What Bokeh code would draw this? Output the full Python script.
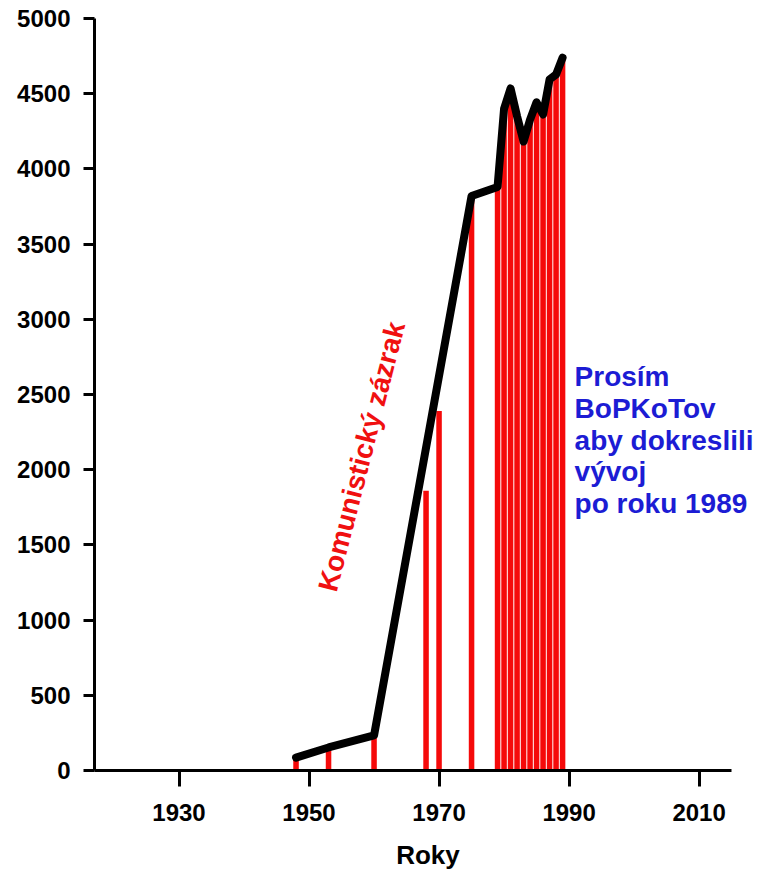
from bokeh.plotting import figure
from bokeh.models import Range1d, FixedTicker, Label
from bokeh.embed import file_html
from bokeh.resources import INLINE

# Data
bar_years = [1948, 1953, 1960, 1968, 1970, 1975, 1979, 1980, 1981, 1982, 1983,
             1984, 1985, 1986, 1987, 1988, 1989]
bar_values = [86, 153, 233, 1860, 2390, 3820, 3880, 4400, 4535, 4350, 4182,
              4328, 4443, 4362, 4595, 4628, 4739]
line_years = [1948, 1953, 1960, 1975, 1979, 1980, 1981, 1982, 1983,
              1984, 1985, 1986, 1987, 1988, 1989]
line_values = [86, 153, 233, 3820, 3880, 4400, 4535, 4350, 4182,
               4328, 4443, 4362, 4595, 4628, 4739]
x_ticks = [1930, 1950, 1970, 1990, 2010]
y_ticks = [0, 500, 1000, 1500, 2000, 2500, 3000, 3500, 4000, 4500, 5000]
x_label = "Roky"
annot_red = "Komunistický zázrak"
annot_blue = "Prosím\nBoPKoTov\naby dokreslili\nvývoj\npo roku 1989"

# frame extends past the axis end so the blue note is not clipped
p = figure(width=761, height=877, output_backend="svg", toolbar_location=None,
           x_range=Range1d(1917, 2019.6), y_range=Range1d(0, 5000),
           min_border_left=94, min_border_top=18, min_border_right=0,
           min_border_bottom=107)
p.grid.visible = False
p.outline_line_color = None
p.background_fill_color = "white"
p.border_fill_color = "white"

p.vbar(x=bar_years, top=bar_values, width=0.85, bottom=0,
       fill_color="#f50a0a", line_color=None)
p.line(line_years, line_values, line_color="black", line_width=8,
       line_join="round", line_cap="round")

p.add_layout(Label(x=1958.1, y=2088, text=annot_red, angle=1.32,
                   text_color="#f01010", text_font="Liberation Sans",
                   text_font_style="bold", text_font_size="28px",
                   text_align="center", text_baseline="middle"))
p.add_layout(Label(x=1990.85, y=2725, text=annot_blue,
                   text_color="#1c1cd4", text_font="Liberation Sans",
                   text_font_style="bold", text_font_size="28px",
                   text_align="left", text_baseline="top",
                   text_line_height=1.03))

for ax in (p.xaxis[0], p.yaxis[0]):
    ax.axis_line_width = 3
    ax.axis_line_color = "black"
    ax.major_tick_line_width = 3
    ax.major_tick_line_color = "black"
    ax.major_tick_in = 0
    ax.minor_tick_line_color = None
    ax.major_label_text_font = "Liberation Sans"
    ax.major_label_text_font_style = "bold"
    ax.major_label_text_font_size = "24px"
    ax.major_label_text_color = "black"

p.xaxis.bounds = (1917, 2015)
p.xaxis.ticker = FixedTicker(ticks=x_ticks)
p.yaxis.ticker = FixedTicker(ticks=y_ticks)
p.xaxis.major_tick_out = 16
p.yaxis.major_tick_out = 11
p.xaxis.major_label_standoff = 17
p.yaxis.major_label_standoff = 13
p.xaxis.axis_label = x_label
p.xaxis.axis_label_text_font = "Liberation Sans"
p.xaxis.axis_label_text_font_style = "bold"
p.xaxis.axis_label_text_font_size = "26px"
p.xaxis.axis_label_standoff = 16
p.xaxis.axis_label_text_color = "black"

open("out.html", "w").write(file_html(p, INLINE))
